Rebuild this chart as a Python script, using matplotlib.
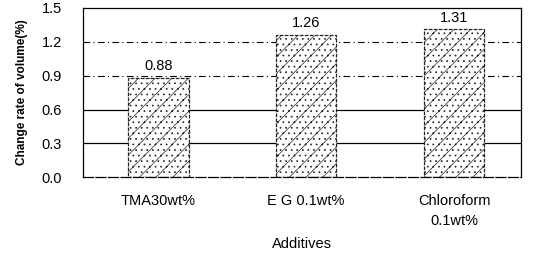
import matplotlib.pyplot as plt
import numpy as np

additives = ["TMA30wt%", "E G 0.1wt%", "Chloroform\n0.1wt%"]
change_rate = [0.88, 1.26, 1.31]
y_ticks = [0.0, 0.3, 0.6, 0.9, 1.2, 1.5]

plt.rcParams["font.family"] = ["Liberation Sans", "DejaVu Sans"]
plt.rcParams["hatch.linewidth"] = 0.5
plt.rcParams["hatch.color"] = "#a8a8a8"

fig = plt.figure(figsize=(5.34, 2.59), dpi=100)
ax = fig.add_axes([0.155, 0.315, 0.82, 0.655])

# grid lines: solid at 0.3/0.6, dash-dot at 0.9/1.2
for y in [0.3, 0.6]:
    ax.axhline(y, color="black", lw=0.9, zorder=1)
for y in [0.9, 1.2]:
    ax.axhline(y, color="black", lw=0.8, ls=(0, (6, 3, 1, 3)), zorder=1)

x = np.arange(len(additives))
bars = ax.bar(x, change_rate, width=0.41, color="white", edgecolor="#222222",
              lw=0.9, ls=(0, (3, 1)), hatch="...//", zorder=2)

for xi, v in zip(x, change_rate):
    ax.text(xi, v + 0.04, f"{v:.2f}", ha="center", va="bottom", fontsize=10.5)

ax.set_xlim(-0.51, 2.45)
ax.set_ylim(0, 1.5)
ax.set_yticks(y_ticks)
ax.set_yticklabels([f"{t:.1f}" for t in y_ticks], fontsize=10.5)
ax.set_xticks(x)
ax.set_xticklabels(additives, fontsize=10.5, linespacing=1.5)
ax.tick_params(length=0, pad=12)
ax.tick_params(axis="y", pad=15)

for s in ax.spines.values():
    s.set_linewidth(0.9)
ax.spines["bottom"].set_linestyle((0, (8, 2)))

ax.set_xlabel("Additives", fontsize=10.5, labelpad=7)
ax.set_ylabel("Change rate of volume(%)", fontsize=8.5, fontweight="bold", labelpad=10)

fig.savefig("out.png", dpi=100)
